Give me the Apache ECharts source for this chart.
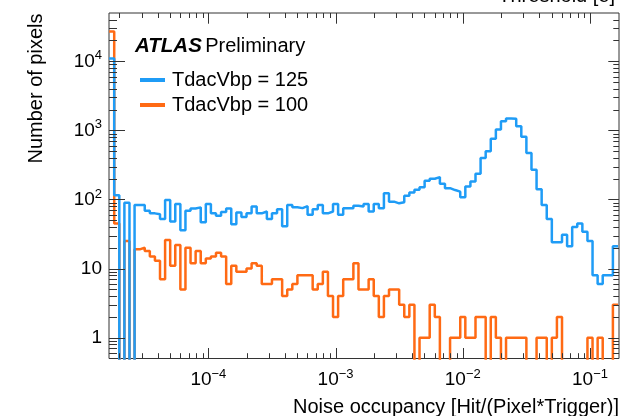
<!DOCTYPE html>
<html><head><meta charset="utf-8">
<script src="https://cdn.jsdelivr.net/npm/echarts@6/dist/echarts.min.js"></script>
<style>html,body{margin:0;padding:0;background:#fff}#c{width:639px;height:416px}</style>
</head><body><div id="c"></div>
<script>
const FONT = "'Liberation Sans', Arial, Helvetica, sans-serif";
const seriesNames = ['TdacVbp = 125', 'TdacVbp = 100'];
const seriesColors = ['#1f9cf6', '#ff6a14'];
// histogram binning: 100 log-uniform bins, 25 per decade
const binLogStart = -4.78;
const binLogWidth = 0.04;
// bin contents (0 = empty bin)
const countsVbp125 = [11000,115,0,90,0,83,83,69,63,61,52,98,48,86,36,69,74,77,47,86,
  63,58,66,74,44,65,56,63,79,63,67,52,63,72,41,83,77,75,80,60,
  72,83,63,67,86,60,75,75,81,79,86,67,86,75,123,93,88,91,113,126,
  138,151,187,200,211,169,146,137,130,108,154,182,236,400,500,755,1030,1360,1490,1470,
  1150,807,472,270,141,83,52,24,24,31,21,40,45,34,25,8,6,8,8,21];
const countsVbp100 = [27000,45,0,25,0,19,20,18,15,13,7,26,11,22,5,20,12,18,12,14,
  15,17,15,6,11,9,9,10,12,11,6,6,7,7,4,5,6,8,8,8,
  5,6,9,4,2,4,7,7,12,5,5,7,4,2,4,5,5,3,2,3,
  0,1,1,3,2,0,0,1,1,2,1,1,2,2,0,2,1,0,1,1,
  1,1,0,0,1,1,0,1,2,0,0,0,0,0,1,0,1,0,0,3];
const xMajorTicks = [1e-4, 1e-3, 1e-2, 1e-1];
const yMajorTicks = [1, 10, 100, 1000, 10000];
const minorMultipliers = [2, 3, 4, 5, 6, 7, 8, 9];
const xRange = [Math.pow(10, -4.781), Math.pow(10, -0.772)];
const yRange = [0.5, 5e4];
const emptyLevel = 0.05; // drawn below the axis minimum (clipped)

const nBins = countsVbp125.length;
const edges = [];
for (let k = 0; k <= nBins; k++) edges.push(Math.pow(10, binLogStart + k * binLogWidth));

function stepData(counts) {
  const pts = counts.map((c, k) => [edges[k], c > 0 ? c : emptyLevel]);
  const last = counts[counts.length - 1];
  pts.push([edges[nBins], last > 0 ? last : emptyLevel]);
  return pts;
}

function decadesTicks(range, majors) {
  const out = [];
  const e0 = Math.floor(Math.log10(range[0])) - 1, e1 = Math.ceil(Math.log10(range[1]));
  for (let e = e0; e <= e1; e++) {
    minorMultipliers.forEach(m => {
      const v = m * Math.pow(10, e);
      if (v > range[0] * 1.0001 && v < range[1] * 0.9999) out.push([v, 0]);
    });
  }
  majors.forEach(v => out.push([v, 1]));
  return out;
}
const xTicks = decadesTicks(xRange, xMajorTicks);
const yTicks = decadesTicks(yRange, yMajorTicks);

function powLabel(v) {
  const lg = Math.log10(v), e = Math.round(lg);
  if (Math.abs(lg - e) > 1e-6) return '';
  if (e === 0) return '{b|1}';
  if (e === 1) return '{b|10}';
  return '{b|10}{s|' + (e < 0 ? '\u2212' : '') + Math.abs(e) + '}';
}
const labelRich = {
  b: {fontSize: 19, fontFamily: FONT, color: '#000', lineHeight: 24},
  s: {fontSize: 13, fontFamily: FONT, color: '#000', verticalAlign: 'top'}
};
const TICK = '#333';

const chart = echarts.init(document.getElementById('c'), null, {renderer: 'canvas'});
chart.setOption({
  animation: false,
  backgroundColor: '#fff',
  grid: {left: 109, top: 13, right: 20, bottom: 57.5, show: true, borderColor: TICK, borderWidth: 1, backgroundColor: 'transparent'},
  xAxis: {
    type: 'log', logBase: 10, min: xRange[0], max: xRange[1],
    axisLine: {show: false}, axisTick: {show: false}, splitLine: {show: false}, minorTick: {show: false},
    axisLabel: {formatter: powLabel, rich: labelRich, margin: 9, showMinLabel: false, showMaxLabel: false}
  },
  yAxis: {
    type: 'log', logBase: 10, min: yRange[0], max: yRange[1],
    axisLine: {show: false}, axisTick: {show: false}, splitLine: {show: false}, minorTick: {show: false},
    axisLabel: {formatter: powLabel, rich: labelRich, margin: 7, showMinLabel: false, showMaxLabel: false}
  },
  legend: {
    data: seriesNames, left: 135, top: 65, orient: 'vertical', icon: 'rect',
    itemWidth: 25, itemHeight: 4, itemGap: 5,
    textStyle: {fontSize: 20, fontFamily: FONT, color: '#000', lineHeight: 20, padding: [0, 0, 0, 2]}
  },
  graphic: [
    {type: 'text', x: 135, y: 46.5, z: 10, style: {
      text: '{a|ATLAS} {b|Preliminary}', verticalAlign: 'middle', fill: '#000',
      rich: {a: {fontSize: 20.5, fontFamily: FONT, fontWeight: 'bold', fontStyle: 'italic', fill: '#000'},
             b: {fontSize: 20, fontFamily: FONT, fill: '#000'}}}},
    {type: 'text', x: 619, y: 407.3, style: {text: 'Noise occupancy [Hit/(Pixel*Trigger)]', align: 'right', verticalAlign: 'middle', fontSize: 20, fontFamily: FONT, fill: '#000'}},
    {type: 'text', x: 36.8, y: 13.5, rotation: Math.PI / 2, style: {text: 'Number of pixels', align: 'right', verticalAlign: 'middle', fontSize: 20, fontFamily: FONT, fill: '#000'}},
    {type: 'text', x: 615, y: -3.5, style: {text: 'Threshold [e]', align: 'right', verticalAlign: 'middle', fontSize: 20, fontFamily: FONT, fill: '#000'}}
  ],
  series: [
    {name: seriesNames[1], type: 'line', step: 'end', data: stepData(countsVbp100), showSymbol: false, symbol: 'none',
     color: seriesColors[1], lineStyle: {color: seriesColors[1], width: 2.5}, z: 2, clip: true},
    {name: seriesNames[0], type: 'line', step: 'end', data: stepData(countsVbp125), showSymbol: false, symbol: 'none',
     color: seriesColors[0], lineStyle: {color: seriesColors[0], width: 2.5}, z: 3, clip: true},
    {type: 'custom', z: 6, silent: true, data: xTicks.map(t => [t[0], yRange[0], t[1]]), encode: {x: 0, y: 1},
     renderItem: (params, api) => {
       const v = api.value(0), major = api.value(2);
       const b = api.coord([v, yRange[0]]), t = api.coord([v, yRange[1]]);
       const lb = major ? 10.5 : 5.3, lt = major ? 10.7 : 5;
       const x = Math.round(b[0]) + 0.5;
       return {type: 'group', children: [
         {type: 'line', shape: {x1: x, y1: b[1], x2: x, y2: b[1] - lb}, style: {stroke: TICK, lineWidth: 1}},
         {type: 'line', shape: {x1: x, y1: t[1], x2: x, y2: t[1] + lt}, style: {stroke: TICK, lineWidth: 1}}
       ]};
     }},
    {type: 'custom', z: 6, silent: true, data: yTicks.map(t => [xRange[0], t[0], t[1]]), encode: {x: 0, y: 1},
     renderItem: (params, api) => {
       const v = api.value(1), major = api.value(2);
       const l = api.coord([xRange[0], v]), r = api.coord([xRange[1], v]);
       const ll = major ? 16 : 8, lr = major ? 10.7 : 5.7;
       const y = Math.round(l[1]) + 0.5;
       return {type: 'group', children: [
         {type: 'line', shape: {x1: l[0], y1: y, x2: l[0] + ll, y2: y}, style: {stroke: TICK, lineWidth: 1}},
         {type: 'line', shape: {x1: r[0], y1: y, x2: r[0] - lr, y2: y}, style: {stroke: TICK, lineWidth: 1}}
       ]};
     }}
  ]
});
</script></body></html>
